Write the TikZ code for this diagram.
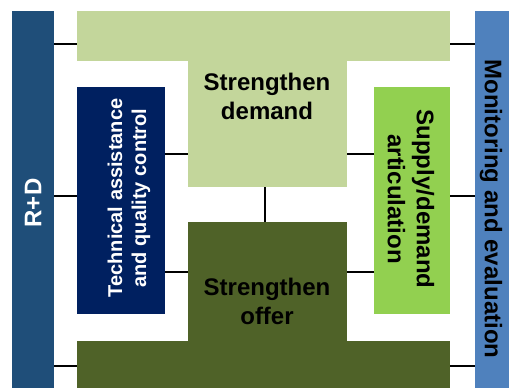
\documentclass[tikz,border=0pt]{standalone}
\usepackage{fontspec}
\setmainfont{Liberation Sans}
\usepackage{xcolor}
\usepackage{tikz}
\usetikzlibrary{positioning,calc}
\definecolor{rdblue}{RGB}{31,78,121}
\definecolor{meblue}{RGB}{79,129,189}
\definecolor{demandgreen}{RGB}{195,214,155}
\definecolor{offergreen}{RGB}{79,98,40}
\definecolor{technavy}{RGB}{0,32,96}
\definecolor{supplygreen}{RGB}{146,208,80}

\begin{document}
\begin{tikzpicture}[x=1pt, y=-1pt,
    block/.style={rectangle, inner sep=0pt, outer sep=0pt, draw=none},
    link/.style={line width=2.5pt, black},
    bigtext/.style={font=\bfseries\fontsize{24}{29}\selectfont, align=center},
    smalltext/.style={font=\bfseries\fontsize{20}{24}\selectfont, align=center}]
    \useasboundingbox (0,0) rectangle (509,388);
    % side bars
    \node[block, fill=rdblue, minimum width=42pt, minimum height=377pt] (rd) at (33,199.5) {};
    \node[block, fill=meblue, minimum width=34pt, minimum height=377pt] (me) at (492,199.5) {};
    % demand and offer
    \node[block, fill=demandgreen, minimum width=373pt, minimum height=50pt] (demandbar) at (263.5,36) {};
    \node[block, fill=demandgreen, minimum width=159pt, minimum height=127pt] (demandstem) at (267.5,123.5) {};
    \node[block, fill=offergreen, minimum width=159pt, minimum height=120pt] (offerstem) at (267.5,282) {};
    \node[block, fill=offergreen, minimum width=373pt, minimum height=47pt] (offerbar) at (263.5,364.5) {};
    % inner boxes
    \node[block, fill=technavy, minimum width=88pt, minimum height=227pt] (tech) at (121,200.5) {};
    \node[block, fill=supplygreen, minimum width=76pt, minimum height=227pt] (supply) at (412,200.5) {};
    % labels
    \node[bigtext] (demandlabel) at (267,96) {Strengthen\\demand};
    \node[bigtext] (offerlabel) at (267,301) {Strengthen\\offer};
    \node[bigtext, text=white, rotate=90] (rdlabel) at (33,203) {R+D};
    \node[smalltext, text=white, rotate=90] (techlabel) at (129,198) {Technical assistance\\and quality control};
    \node[bigtext, rotate=-90] (supplylabel) at (411,199) {Supply/demand\\articulation};
    \node[bigtext, rotate=-90] (melabel) at (491,209) {Monitoring and evaluation};
    % connectors
    \draw[link] (rd.east |- 0,44) -- (demandbar.west |- 0,44);
    \draw[link] (rd.east |- 0,196) -- (tech.west |- 0,196);
    \draw[link] (rd.east |- 0,366) -- (offerbar.west |- 0,366);
    \draw[link] (tech.east |- 0,154) -- (demandstem.west |- 0,154);
    \draw[link] (tech.east |- 0,272) -- (offerstem.west |- 0,272);
    \draw[link] (supply.west |- 0,154) -- (demandstem.east |- 0,154);
    \draw[link] (supply.west |- 0,272) -- (offerstem.east |- 0,272);
    \draw[link] (supply.east |- 0,196) -- (me.west |- 0,196);
    \draw[link] (demandbar.east |- 0,44) -- (me.west |- 0,44);
    \draw[link] (offerbar.east |- 0,366) -- (me.west |- 0,366);
    \draw[link] (demandstem.south -| 265,0) -- (offerstem.north -| 265,0);
\end{tikzpicture}
\end{document}
